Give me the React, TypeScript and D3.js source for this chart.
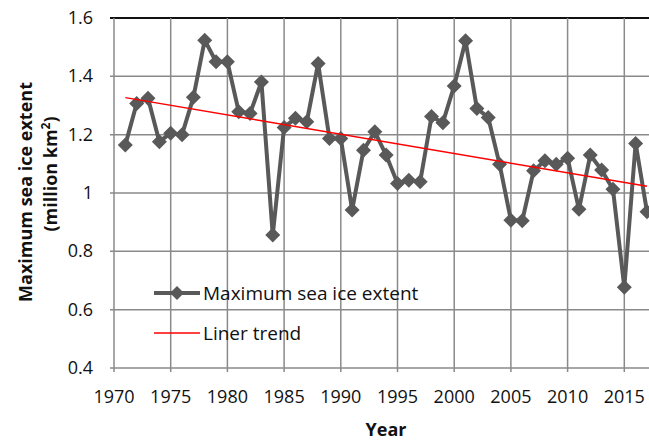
import React from "react";
import * as d3 from "d3";

const years = [1971,1972,1973,1974,1975,1976,1977,1978,1979,1980,1981,1982,1983,1984,1985,1986,1987,1988,1989,1990,1991,1992,1993,1994,1995,1996,1997,1998,1999,2000,2001,2002,2003,2004,2005,2006,2007,2008,2009,2010,2011,2012,2013,2014,2015,2016,2017];
const extent = [1.165,1.307,1.325,1.176,1.205,1.2,1.328,1.524,1.45,1.45,1.279,1.273,1.381,0.856,1.225,1.256,1.244,1.444,1.187,1.187,0.942,1.147,1.21,1.13,1.033,1.044,1.039,1.262,1.241,1.367,1.522,1.29,1.259,1.099,0.907,0.905,1.076,1.111,1.099,1.119,0.944,1.13,1.079,1.013,0.677,1.17,0.936];
const trendYears = [1971, 2017];
const trendValues = [1.327, 1.023];
const xTicks = [1970,1975,1980,1985,1990,1995,2000,2005,2010,2015,2020];
const yTicks = [0.4,0.6,0.8,1.0,1.2,1.4,1.6];
const legendLabels = ["Maximum sea ice extent", "Liner trend"];

const W = 649, H = 440;
const L = 114, T = 18, B = 368;
const FONT = "'Open Sans', sans-serif";
const GRID = "#8a8a8a";
const SERIES = "#595959";

export default function App() {
  const x = d3.scaleLinear().domain([1970, 2020]).range([L, L + 50 * 11.34]);
  const y = d3.scaleLinear().domain([0.4, 1.6]).range([B, T]);
  const line = d3.line<number>().x((_, i) => x(years[i])).y((d) => y(d));
  const trend = d3.line<number>().x((_, i) => x(trendYears[i])).y((d) => y(d));
  const diamond = (cx: number, cy: number, r: number) =>
    `M${cx},${cy - r}L${cx + r},${cy}L${cx},${cy + r}L${cx - r},${cy}Z`;

  return (
    <svg width={W} height={H} style={{ position: "absolute", left: 0, top: 0, background: "#fff" }}>
      <defs>
        <clipPath id="plot">
          <rect x={0} y={0} width={W} height={H} />
        </clipPath>
      </defs>
      {yTicks.map((t) => (
        <line key={"gy" + t} x1={L - 4} x2={W} y1={y(t)} y2={y(t)}
          stroke={t === 1.6 ? "#111" : GRID} strokeWidth={t === 1.6 ? 2 : 1.5} />
      ))}
      {xTicks.map((t) => (
        <line key={"gx" + t} x1={x(t)} x2={x(t)} y1={T} y2={B + 4} stroke={GRID} strokeWidth={1.5} />
      ))}
      {yTicks.map((t) => (
        <text key={"ty" + t} x={93} y={y(t) + 6} textAnchor="end" fontFamily={FONT} fontSize={18} fill="#111">
          {d3.format("~g")(t)}
        </text>
      ))}
      {xTicks.filter((t) => x(t) < W - 10).map((t) => (
        <text key={"tx" + t} x={x(t)} y={403} textAnchor="middle" fontFamily={FONT} fontSize={18} fill="#111">
          {t}
        </text>
      ))}
      <text x={386} y={436} textAnchor="middle" fontFamily={FONT} fontWeight="bold" fontSize={18} fill="#111">Year</text>
      <text transform="translate(32,192) rotate(-90)" textAnchor="middle" fontFamily={FONT} fontWeight="bold" fontSize={18} fill="#111">
        Maximum sea ice extent
      </text>
      <text transform="translate(57,174) rotate(-90)" textAnchor="middle" fontFamily={FONT} fontWeight="bold" fontSize={18} fill="#111">
        (million km<tspan dy={-7} fontSize={12}>2</tspan><tspan dy={7}>)</tspan>
      </text>
      <g clipPath="url(#plot)">
        <path d={line(extent) || ""} fill="none" stroke={SERIES} strokeWidth={4} strokeLinejoin="round" />
        {extent.map((v, i) => (
          <path key={"m" + i} d={diamond(x(years[i]), y(v), 7.5)} fill={SERIES} />
        ))}
        <path d={trend(trendValues) || ""} fill="none" stroke="#ff0000" strokeWidth={1.5} />
      </g>
      <line x1={154} x2={200} y1={293} y2={293} stroke={SERIES} strokeWidth={4} />
      <path d={diamond(177, 293, 7)} fill={SERIES} />
      <text x={203} y={300} fontFamily={FONT} fontSize={19} fill="#111">{legendLabels[0]}</text>
      <line x1={154} x2={200} y1={333} y2={333} stroke="#ff0000" strokeWidth={1.5} />
      <text x={203} y={340} fontFamily={FONT} fontSize={19} fill="#111">{legendLabels[1]}</text>
    </svg>
  );
}
